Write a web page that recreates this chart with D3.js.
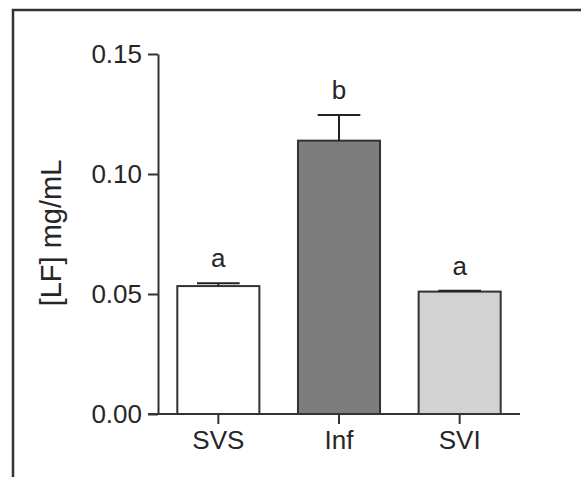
<!DOCTYPE html>
<html>
<head>
<meta charset="utf-8">
<script src="https://cdn.jsdelivr.net/npm/d3@7"></script>
<style>
    body { margin: 0; background: #fff; }
    text { font-family: "Liberation Sans", Arial, sans-serif; fill: #262626; }
    .axis path, .axis line { stroke: #333; stroke-width: 2; }
</style>
</head>
<body>
<svg class="LFChart" width="581" height="477"></svg>
<script>
const groups = ["SVS", "Inf", "SVI"];
const means = [0.0533, 0.1139, 0.0510];
const errors = [0.0012, 0.0107, 0.0004];
const letters = ["a", "b", "a"];
const yTicks = [0.00, 0.05, 0.10, 0.15];
const fills = ["#ffffff", "#7d7d7d", "#d2d2d2"];

function renderLF()
{
    const svg = d3.select('.LFChart');

    // outer frame (only top and left edges show in the crop)
    svg.append('path')
        .attr('d', 'M13,477V10H581')
        .attr('fill', 'none')
        .attr('stroke', '#333')
        .attr('stroke-width', 2.5);

    const data = groups.map((g, i) => ({
        group: g,
        mean: means[i],
        err: errors[i],
        letter: letters[i],
        fill: fills[i]
    }));

    const xScale = d3.scaleBand()
        .range([158, 520])
        .domain(groups)
        .paddingInner(0.32)
        .paddingOuter(0.16);

    const yScale = d3.scaleLinear()
        .range([414, 54])
        .domain([0, 0.15]);

    const bw = xScale.bandwidth();

    svg.selectAll('.bar')
        .data(data)
        .enter()
        .append('rect')
        .attr('class', 'bar')
        .attr('x', d => xScale(d.group))
        .attr('y', d => yScale(d.mean))
        .attr('width', bw)
        .attr('height', d => yScale(0) - yScale(d.mean))
        .attr('fill', d => d.fill)
        .attr('stroke', '#333')
        .attr('stroke-width', 2);

    // upward error bars
    svg.selectAll('.err')
        .data(data)
        .enter()
        .append('line')
        .attr('class', 'err')
        .attr('x1', d => xScale(d.group) + bw / 2)
        .attr('x2', d => xScale(d.group) + bw / 2)
        .attr('y1', d => yScale(d.mean))
        .attr('y2', d => yScale(d.mean + d.err))
        .attr('stroke', '#222')
        .attr('stroke-width', 2);

    svg.selectAll('.cap')
        .data(data)
        .enter()
        .append('line')
        .attr('class', 'cap')
        .attr('x1', d => xScale(d.group) + bw / 2 - bw * 0.26)
        .attr('x2', d => xScale(d.group) + bw / 2 + bw * 0.26)
        .attr('y1', d => yScale(d.mean + d.err))
        .attr('y2', d => yScale(d.mean + d.err))
        .attr('stroke', '#222')
        .attr('stroke-width', 2);

    svg.selectAll('.letter')
        .data(data)
        .enter()
        .append('text')
        .attr('class', 'letter')
        .attr('x', d => xScale(d.group) + bw / 2)
        .attr('y', d => yScale(d.mean + d.err) - 16)
        .attr('text-anchor', 'middle')
        .style('font-size', '26px')
        .text(d => d.letter);

    const yAxis = svg.append('g')
        .attr('class', 'axis y-axis')
        .attr('transform', 'translate(158, 0)')
        .call(d3.axisLeft(yScale)
            .tickValues(yTicks)
            .tickFormat(d3.format('.2f'))
            .tickSize(10)
            .tickSizeOuter(0)
            .tickPadding(6)
        );
    yAxis.selectAll('text').style('font-size', '26px');

    const xAxis = svg.append('g')
        .attr('class', 'axis x-axis')
        .attr('transform', 'translate(0, 414)')
        .call(d3.axisBottom(xScale)
            .tickSize(10)
            .tickSizeOuter(0)
            .tickPadding(7)
        );
    xAxis.selectAll('text').style('font-size', '26px');
    xAxis.select('.domain').attr('d', 'M148,0H520');

    svg.append('text')
        .attr('class', 'y-axis-legend')
        .attr('transform', 'translate(61, 233) rotate(-90)')
        .attr('text-anchor', 'middle')
        .style('font-size', '29px')
        .text('[LF] mg/mL');
}

renderLF();
</script>
</body>
</html>
